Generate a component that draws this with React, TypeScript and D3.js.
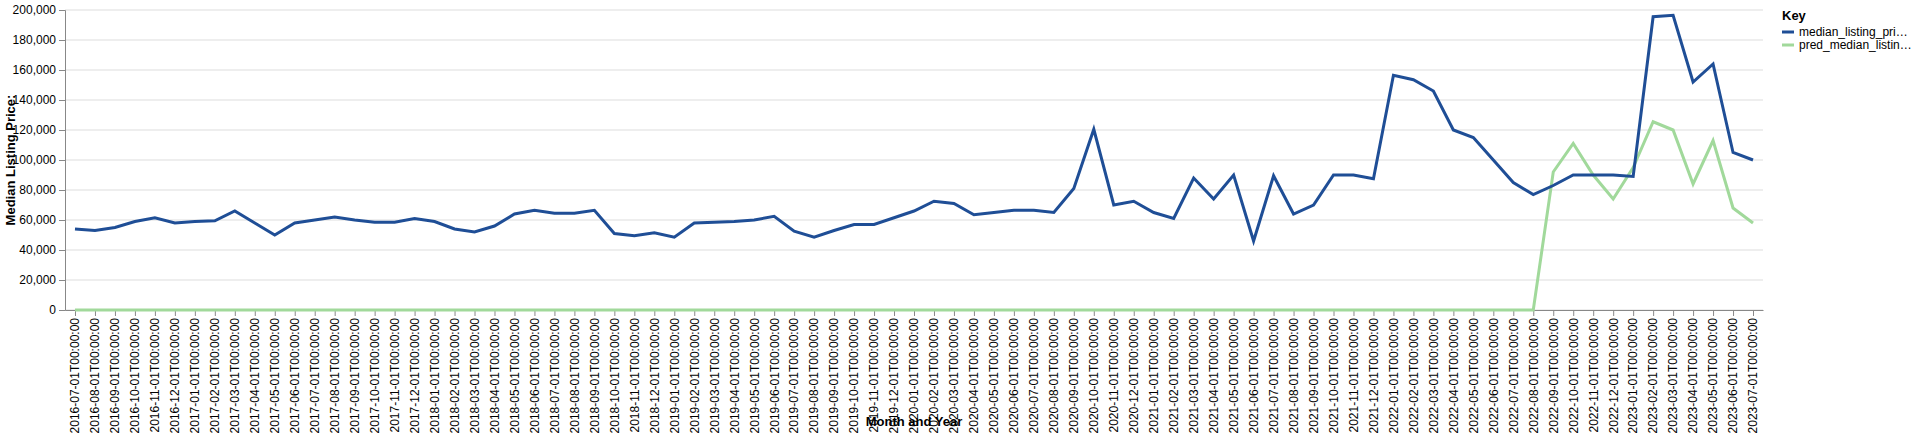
import { useEffect, useRef } from 'react';
import * as d3 from 'd3';

const months = [
  '2016-07', '2016-08', '2016-09', '2016-10', '2016-11', '2016-12',
  '2017-01', '2017-02', '2017-03', '2017-04', '2017-05', '2017-06', '2017-07', '2017-08', '2017-09', '2017-10', '2017-11', '2017-12',
  '2018-01', '2018-02', '2018-03', '2018-04', '2018-05', '2018-06', '2018-07', '2018-08', '2018-09', '2018-10', '2018-11', '2018-12',
  '2019-01', '2019-02', '2019-03', '2019-04', '2019-05', '2019-06', '2019-07', '2019-08', '2019-09', '2019-10', '2019-11', '2019-12',
  '2020-01', '2020-02', '2020-03', '2020-04', '2020-05', '2020-06', '2020-07', '2020-08', '2020-09', '2020-10', '2020-11', '2020-12',
  '2021-01', '2021-02', '2021-03', '2021-04', '2021-05', '2021-06', '2021-07', '2021-08', '2021-09', '2021-10', '2021-11', '2021-12',
  '2022-01', '2022-02', '2022-03', '2022-04', '2022-05', '2022-06', '2022-07', '2022-08', '2022-09', '2022-10', '2022-11', '2022-12',
  '2023-01', '2023-02', '2023-03', '2023-04', '2023-05', '2023-06', '2023-07',
];

const medianPrice = [
  54000, 53000, 55000, 59000, 61500, 58000,
  59000, 59500, 66000, 58000, 50000, 58000, 60000, 62000, 60000, 58500, 58500, 61000,
  59000, 54000, 52000, 56000, 64000, 66500, 64500, 64500, 66500, 51000, 49500, 51500,
  48500, 58000, 58500, 59000, 60000, 62500, 52500, 48500, 53000, 57000, 57000, 61500,
  66000, 72500, 71000, 63500, 65000, 66500, 66500, 65000, 81000, 120500, 70000, 72500,
  65000, 61000, 88000, 74000, 90000, 46000, 89500, 64000, 70000, 90000, 90000, 87500,
  156500, 153500, 146000, 120000, 115000, 100000, 85000, 77000, 83000, 90000, 90000, 90000,
  89000, 195500, 196500, 152000, 164000, 105000, 100000,
];

const predPrice = [
  0, 0, 0, 0, 0, 0,
  0, 0, 0, 0, 0, 0, 0, 0, 0, 0, 0, 0,
  0, 0, 0, 0, 0, 0, 0, 0, 0, 0, 0, 0,
  0, 0, 0, 0, 0, 0, 0, 0, 0, 0, 0, 0,
  0, 0, 0, 0, 0, 0, 0, 0, 0, 0, 0, 0,
  0, 0, 0, 0, 0, 0, 0, 0, 0, 0, 0, 0,
  0, 0, 0, 0, 0, 0, 0, 0, 92000, 111000, 90000, 74000,
  95000, 125500, 120000, 84000, 113000, 68000, 58000,
];

const yTicks = [0, 20000, 40000, 60000, 80000, 100000, 120000, 140000, 160000, 180000, 200000];

const series = [
  { name: 'median_listing_pri…', values: medianPrice, color: '#1f4e96' },
  { name: 'pred_median_listin…', values: predPrice, color: '#a1d99b' },
];

export default function App() {
  const ref = useRef<SVGSVGElement>(null);

  useEffect(() => {
    const svg = d3.select(ref.current);
    svg.selectAll('*').remove();

    const left = 65;
    const right = 1763;
    const top = 10;
    const bottom = 310;
    const font = 'Liberation Sans, Arial, sans-serif';

    const x = d3.scalePoint<string>().domain(months).range([left, right]).padding(0.5);
    const y = d3.scaleLinear().domain([0, 200000]).range([bottom, top]);

    const g = svg.append('g').style('font-family', font);

    // grid
    g.append('g')
      .selectAll('line')
      .data(yTicks)
      .join('line')
      .attr('x1', left)
      .attr('x2', right)
      .attr('y1', (d) => y(d))
      .attr('y2', (d) => y(d))
      .attr('stroke', '#ddd');

    // y axis
    const ya = g.append('g')
      .attr('transform', `translate(${left},0)`)
      .call(d3.axisLeft(y).tickValues(yTicks).tickFormat(d3.format(',')).tickSize(6));
    ya.select('.domain').attr('stroke', '#888');
    ya.selectAll('line').attr('stroke', '#888');
    ya.selectAll('text').attr('fill', '#000').style('font-size', '12px').style('font-family', font);

    // x axis
    const xa = g.append('g')
      .attr('transform', `translate(0,${bottom})`)
      .call(d3.axisBottom(x).tickFormat((d) => `${d}-01T00:00:00`).tickSize(6).tickSizeOuter(0));
    xa.select('.domain').attr('stroke', '#888');
    xa.selectAll('line').attr('stroke', '#888');
    xa.selectAll('text')
      .attr('fill', '#000')
      .style('font-size', '12px')
      .style('font-family', font)
      .attr('text-anchor', 'end')
      .attr('transform', 'rotate(-90)')
      .attr('x', -8)
      .attr('y', 0)
      .attr('dy', '0.32em');

    // lines
    const line = d3.line<number>()
      .x((_, i) => x(months[i]) as number)
      .y((d) => y(d));
    series.slice().reverse().forEach((s) => {
      g.append('path')
        .datum(s.values)
        .attr('fill', 'none')
        .attr('stroke', s.color)
        .attr('stroke-width', 3)
        .attr('d', line);
    });

    // titles
    g.append('text')
      .attr('x', (left + right) / 2)
      .attr('y', 426)
      .attr('text-anchor', 'middle')
      .style('font-size', '13px')
      .style('font-weight', 'bold')
      .text('Month and Year');
    g.append('text')
      .attr('transform', `translate(15,${(top + bottom) / 2}) rotate(-90)`)
      .attr('text-anchor', 'middle')
      .style('font-size', '13px')
      .style('font-weight', 'bold')
      .text('Median Listing Price:');

    // legend
    const lg = g.append('g').attr('transform', 'translate(1782,0)');
    lg.append('text').attr('x', 0).attr('y', 20).style('font-size', '13px').style('font-weight', 'bold').text('Key');
    series.forEach((s, i) => {
      const yy = 32 + i * 13;
      lg.append('line')
        .attr('x1', 0).attr('x2', 12).attr('y1', yy).attr('y2', yy)
        .attr('stroke', s.color).attr('stroke-width', 3);
      lg.append('text')
        .attr('x', 17).attr('y', yy).attr('dy', '0.32em')
        .style('font-size', '12px').text(s.name);
    });
  }, []);

  return <svg ref={ref} width={1920} height={434} style={{ position: 'absolute', left: 0, top: 0 }} />;
}
